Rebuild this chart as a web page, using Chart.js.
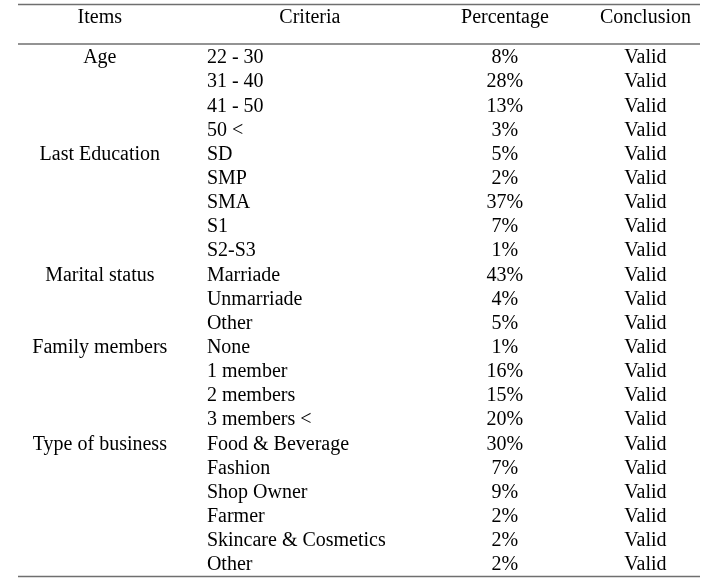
<!DOCTYPE html>
<html>
<head>
<meta charset="utf-8">
<script src="https://cdn.jsdelivr.net/npm/chart.js@4/dist/chart.umd.min.js"></script>
<style>
  body { margin: 0; background: #fff; }
  .wrapper { width: 707px; height: 579px; position: relative; }
</style>
</head>
<body>
<div class="wrapper"><canvas id="myChart"></canvas></div>
<script>
const headers = ['Items', 'Criteria', 'Percentage', 'Conclusion'];
const items = ['Age', '', '', '', 'Last Education', '', '', '', '', 'Marital status', '', '',
  'Family members', '', '', '', 'Type of business', '', '', '', '', ''];
const criteria = ['22 - 30', '31 - 40', '41 - 50', '50 <', 'SD', 'SMP', 'SMA', 'S1', 'S2-S3',
  'Marriade', 'Unmarriade', 'Other', 'None', '1 member', '2 members', '3 members <',
  'Food & Beverage', 'Fashion', 'Shop Owner', 'Farmer', 'Skincare & Cosmetics', 'Other'];
const percentages = [8, 28, 13, 3, 5, 2, 37, 7, 1, 43, 4, 5, 1, 16, 15, 20, 30, 7, 9, 2, 2, 2];
const conclusion = criteria.map(() => 'Valid');

const tablePlugin = {
  id: 'tableText',
  afterDraw: function(chart){
    const ctx = chart.ctx;
    const area = chart.chartArea;
    const y = chart.scales.y;
    const colX = function(f){ return area.left + f * (area.right - area.left); };
    // column anchors (fraction of width)
    const cItems = colX(0.12), cCrit = colX(0.277), cCritHead = colX(0.428),
      cPct = colX(0.714), cConc = colX(0.92);

    ctx.save();
    // rules
    ctx.strokeStyle = '#6f6f6f';
    ctx.lineWidth = 1.5;
    [4.5, area.top - 1, area.bottom + 0.5].forEach(function(ly){
      ctx.beginPath();
      ctx.moveTo(area.left, ly);
      ctx.lineTo(area.right, ly);
      ctx.stroke();
    });

    ctx.fillStyle = '#000';
    ctx.font = '20px "Liberation Serif", "Times New Roman", serif';
    ctx.textBaseline = 'middle';

    // header
    const hy = 18;
    ctx.textAlign = 'center';
    ctx.fillText(headers[0], cItems, hy);
    ctx.fillText(headers[1], cCritHead, hy);
    ctx.fillText(headers[2], cPct, hy);
    ctx.fillText(headers[3], cConc, hy);

    // rows
    criteria.forEach(function(label, i){
      const py = y.getPixelForValue(i) + 1;
      ctx.textAlign = 'center';
      if(items[i]) ctx.fillText(items[i], cItems, py);
      ctx.fillText(percentages[i] + '%', cPct, py);
      ctx.fillText(conclusion[i], cConc, py);
      ctx.textAlign = 'left';
      ctx.fillText(label, cCrit, py);
    });
    ctx.restore();
  }
};

const app = {
  initChart: function(){
    const thisApp = this;
    thisApp.ctx = document.getElementById('myChart').getContext('2d');
    // eslint-disable-next-line no-undef
    thisApp.chart = new Chart(thisApp.ctx, {
      type: 'bar',
      data: {
        labels: criteria,
        datasets: [{
          label: 'Percentage',
          data: percentages,
          backgroundColor: 'rgba(0,0,0,0)',
          borderWidth: 0,
        }]
      },
      options: {
        indexAxis: 'y',
        responsive: true,
        maintainAspectRatio: false,
        animation: false,
        layout: { padding: { top: 45, bottom: 3, left: 18, right: 7 } },
        plugins: { legend: { display: false }, tooltip: { enabled: false } },
        scales: {
          x: { display: false, min: 0, max: 100 },
          y: { display: false }
        }
      },
      plugins: [tablePlugin]
    });
  },

  init: function(){
    this.initChart();
  }
};

app.init();
</script>
</body>
</html>
